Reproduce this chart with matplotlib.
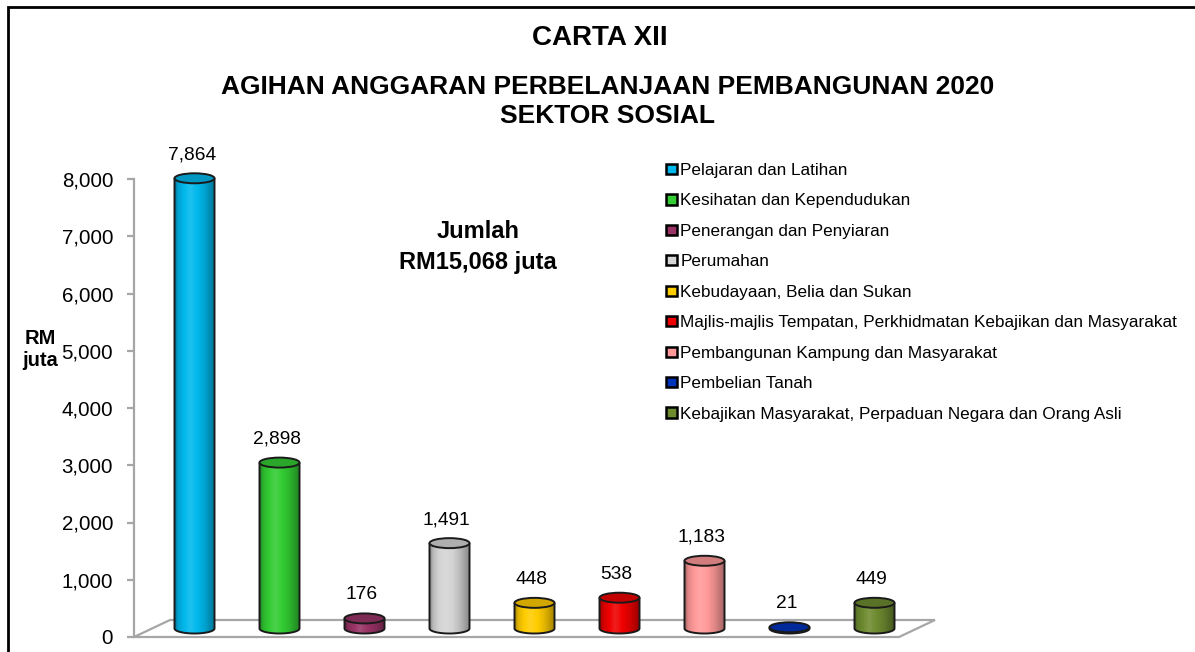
import numpy as np
import matplotlib
matplotlib.use("Agg")
import matplotlib.pyplot as plt
from matplotlib.patches import Ellipse, Polygon, PathPatch, Rectangle, Patch
from matplotlib.path import Path
from matplotlib.colors import to_rgb

plt.rcParams['font.family'] = ['Liberation Sans', 'DejaVu Sans']

# data
categories = [
    "Pelajaran dan Latihan",
    "Kesihatan dan Kependudukan",
    "Penerangan dan Penyiaran",
    "Perumahan",
    "Kebudayaan, Belia dan Sukan",
    "Majlis-majlis Tempatan, Perkhidmatan Kebajikan dan Masyarakat",
    "Pembangunan Kampung dan Masyarakat",
    "Pembelian Tanah",
    "Kebajikan Masyarakat, Perpaduan Negara dan Orang Asli",
]
values = [7864, 2898, 176, 1491, 448, 538, 1183, 21, 449]
colors = ["#00B8EC", "#33CC33", "#993366", "#D4D4D4", "#FFCC00",
          "#EE0000", "#FF9999", "#0033BB", "#6E8B30"]
yticks = [0, 1000, 2000, 3000, 4000, 5000, 6000, 7000, 8000]

W, H = 1195, 652
fig = plt.figure(figsize=(W / 100, H / 100), dpi=100)

# axes placed so that the floor front edge runs along y=0
ax_left, ax_right = 134, 950
y0_px, ytop_px = 637, 140
px_per_val = (637 - 179) / 8000
ymax = (y0_px - ytop_px) / px_per_val
ax = fig.add_axes([ax_left / W, (H - y0_px) / H, (ax_right - ax_left) / W, (y0_px - ytop_px) / H])
unit = 85.0  # px per category
xlim = (-0.5, -0.5 + (ax_right - ax_left) / unit)

# 3D depth offset
dx = 36 / unit
dy = 17 / px_per_val
n = len(values)

# floor
floor = Polygon([(-0.5, 0), (n - 0.5, 0), (n - 0.5 + dx, dy), (-0.5 + dx, dy)],
                closed=True, facecolor="white", edgecolor="#A6A6A6", lw=1.6,
                clip_on=False, zorder=1)
ax.add_patch(floor)

bw = 40 / unit
eh = 10 / px_per_val
base = dy / 2


def shade(rgb, f):
    rgb = np.array(rgb)
    if f <= 1:
        return rgb * f
    return rgb + (1 - rgb) * (f - 1)


t = np.linspace(0, 1, 120)
prof = np.interp(t, [0, 0.08, 0.38, 0.75, 1], [0.66, 0.88, 1.12, 0.88, 0.64])

for i, (v, c) in enumerate(zip(values, colors)):
    xc = i + dx / 2
    top = base + v
    rgb = to_rgb(c)
    grad = np.array([[shade(rgb, f) for f in prof]])
    # body path with rounded bottom
    th = np.linspace(np.pi, 2 * np.pi, 40)
    bx = xc + bw / 2 * np.cos(th)
    by = base + eh / 2 * np.sin(th)
    verts = [(xc - bw / 2, top)] + list(zip(bx, by)) + [(xc + bw / 2, top), (xc - bw / 2, top)]
    codes = [Path.MOVETO] + [Path.LINETO] * (len(verts) - 2) + [Path.CLOSEPOLY]
    body = PathPatch(Path(verts, codes), facecolor="none", edgecolor="none", zorder=3)
    ax.add_patch(body)
    im = ax.imshow(grad, extent=[xc - bw / 2, xc + bw / 2, base - eh, top],
                   aspect="auto", zorder=3, interpolation="bilinear")
    im.set_clip_path(body)
    outline = PathPatch(Path(verts[:-1], [Path.MOVETO] + [Path.LINETO] * (len(verts) - 2)),
                        facecolor="none", edgecolor="#1A1A1A", lw=1.4, zorder=4)
    ax.add_patch(outline)
    cap = Ellipse((xc, top), bw, eh, facecolor=shade(rgb, 0.82), edgecolor="#1A1A1A",
                  lw=1.4, zorder=5)
    ax.add_patch(cap)
    ax.annotate(f"{v:,}", (xc, top), xytext=(-2, 17), textcoords="offset points",
                ha="center", va="center", fontsize=13.8, zorder=6, annotation_clip=False)

ax.set_xlim(*xlim)
ax.set_ylim(0, ymax)

for s in ["top", "right", "bottom"]:
    ax.spines[s].set_visible(False)
ax.spines["left"].set_color("#A6A6A6")
ax.spines["left"].set_linewidth(1.6)
ax.spines["left"].set_bounds(0, 8000)
ax.set_xticks([])
ax.set_yticks(yticks)
ax.set_yticklabels([f"{y:,}" for y in yticks])
ax.tick_params(axis="y", colors="#A6A6A6", labelcolor="black", length=5, width=1.6,
               labelsize=14.8, pad=10)
ax.patch.set_alpha(0)

# titles
fig.text(0.5 + 2 / W, 1 - 38 / H, "CARTA XII", ha="center", va="center",
         fontsize=20, fontweight="bold")
fig.text(0.5 + 10 / W, 1 - 87 / H, "AGIHAN ANGGARAN PERBELANJAAN PEMBANGUNAN 2020",
         ha="center", va="center", fontsize=19, fontweight="bold")
fig.text(0.5 + 10 / W, 1 - 116 / H, "SEKTOR SOSIAL", ha="center", va="center",
         fontsize=19, fontweight="bold")
fig.text(478 / W, 1 - 232 / H, "Jumlah", ha="center", va="center",
         fontsize=17, fontweight="bold")
fig.text(478 / W, 1 - 262 / H, "RM15,068 juta", ha="center", va="center",
         fontsize=17, fontweight="bold")
fig.text(40 / W, 1 - 338 / H, "RM", ha="center", va="center", fontsize=14.5, fontweight="bold")
fig.text(40 / W, 1 - 360 / H, "juta", ha="center", va="center", fontsize=14.5, fontweight="bold")

# legend
handles = [Patch(facecolor=c, edgecolor="black", lw=1.8) for c in colors]
fig.legend(handles, categories, loc="upper left", bbox_to_anchor=(666 / W, 1 - 163 / H),
           frameon=False, fontsize=12.3, handlelength=0.62, handleheight=0.55,
           handletextpad=0.22, labelspacing=0.905, borderpad=0, borderaxespad=0)

# outer frame (extends past right and bottom edges)
fig.patches.append(Rectangle((8 / W, -0.1), 1.2, 1.1 - 7 / H, transform=fig.transFigure,
                             fill=False, edgecolor="black", lw=2))

fig.savefig("out.png", dpi=100)
